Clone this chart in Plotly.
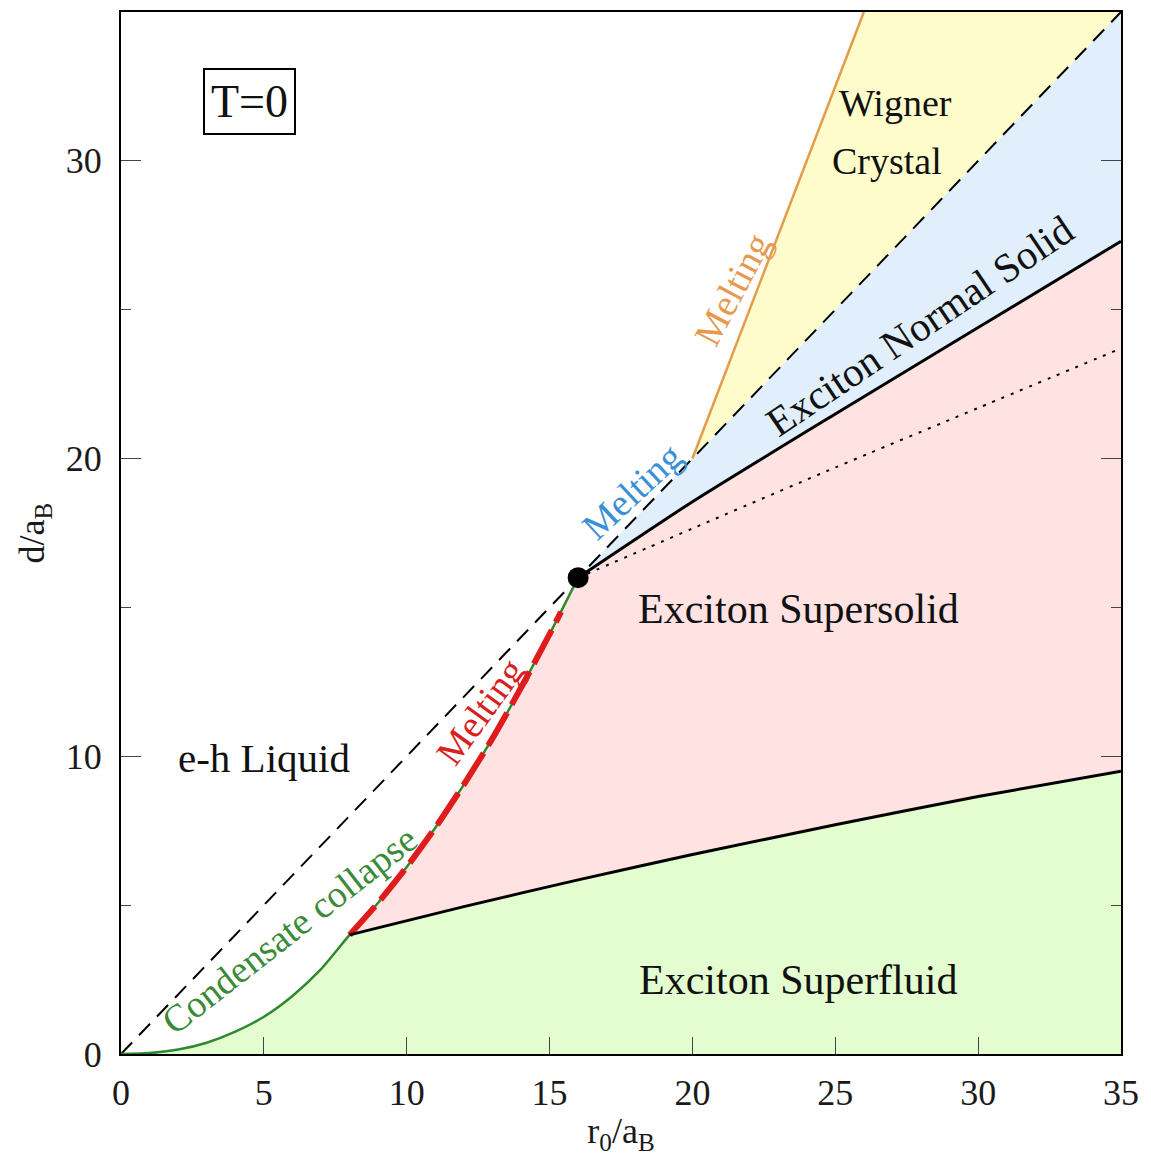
import plotly.graph_objects as go

# ---- data ----
diag_x = [0, 35]
diag_y = [0, 35]

collapse_x = [0, 1, 2, 3, 4, 5, 6, 7, 8]
collapse_y = [0, 0.03, 0.15, 0.38, 0.75, 1.25, 1.95, 2.85, 4.0]

melt_x = [8, 9, 10, 11, 12, 13, 14, 15, 16]
melt_y = [4, 5.08, 6.28, 7.6, 9.05, 10.6, 12.3, 14.1, 16]

red_melt_x = [8, 9, 10, 11, 12, 13, 14, 15, 15.4]
red_melt_y = [4, 5.08, 6.28, 7.6, 9.05, 10.6, 12.3, 14.1, 14.85]

sf_x = [8, 12, 16, 20, 25, 30, 35]
sf_y = [4, 4.95, 5.85, 6.7, 7.7, 8.65, 9.5]

ns_x = [16, 20, 25, 30, 35]
ns_y = [16, 18.55, 21.5, 24.4, 27.3]

dot_x = [16, 20, 25, 30, 35]
dot_y = [16, 17.65, 19.7, 21.7, 23.7]

wig_x = [20, 26]
wig_y = [20, 35]

triple_x = [16]
triple_y = [16]

xticks = [0, 5, 10, 15, 20, 25, 30, 35]
yticks = [0, 10, 20, 30]

FONT = "Liberation Serif"

fig = go.Figure()

def poly(xs, ys, color):
    fig.add_trace(go.Scatter(x=xs, y=ys, mode="lines", fill="toself",
                             fillcolor=color, line=dict(width=0),
                             hoverinfo="skip", showlegend=False))

# fills
poly(collapse_x + sf_x[1:] + [sf_x[-1], collapse_x[0]],
     collapse_y + sf_y[1:] + [0, 0], "#e3fcd0")
poly(sf_x + ns_x[::-1] + melt_x[-2::-1],
     sf_y + ns_y[::-1] + melt_y[-2::-1], "#ffe2e2")
poly(ns_x + [diag_x[1], triple_x[0]],
     ns_y + [diag_y[1], triple_y[0]], "#e0effb")
poly([wig_x[0], diag_x[1], wig_x[1]],
     [wig_y[0], diag_y[1], wig_y[1]], "#fffccc")

def line(xs, ys, color, width, dash="solid"):
    fig.add_trace(go.Scatter(x=xs, y=ys, mode="lines",
                             line=dict(color=color, width=width, dash=dash, shape="spline", smoothing=0.6),
                             hoverinfo="skip", showlegend=False))

line(diag_x, diag_y, "black", 2, "16px,10px")
line(collapse_x + melt_x[1:], collapse_y + melt_y[1:], "#2f8a2f", 2.5)
line(red_melt_x, red_melt_y, "#e01b1b", 6, "38px,9px")
line(sf_x, sf_y, "black", 3)
line(ns_x, ns_y, "black", 3)
line(dot_x, dot_y, "black", 2, "3px,7px")
line(wig_x, wig_y, "#e39b4c", 2.5)

fig.add_trace(go.Scatter(x=triple_x, y=triple_y, mode="markers",
                         marker=dict(color="black", size=21),
                         hoverinfo="skip", showlegend=False))

def txt(x, y, s, size=40, color="#111", angle=0, **kw):
    fig.add_annotation(x=x, y=y, xref="x", yref="y", text=s, showarrow=False,
                       textangle=angle, font=dict(family=FONT, size=size, color=color), **kw)

txt(4.49, 32.0, "T=0", size=46, bordercolor="black", borderwidth=2, borderpad=6)
txt(27.1, 31.95, "Wigner", size=38)
txt(26.8, 30.0, "Crystal", size=38)
txt(27.95, 24.45, "Exciton Normal Solid", size=41, angle=-34)
txt(23.7, 14.95, "Exciton Supersolid", size=42)
txt(23.7, 2.5, "Exciton Superfluid", size=42)
txt(5.0, 9.95, "e-h Liquid", size=41)
txt(5.9, 4.15, "Condensate collapse", size=38, color="#3a8a3a", angle=-38)
txt(12.55, 11.5, "Melting", size=38, color="#d92020", angle=-54)
txt(17.9, 18.9, "Melting", size=38, color="#3a8fd6", angle=-43)
txt(21.4, 25.7, "Melting", size=38, color="#e59a4f", angle=-62)

fig.update_layout(
    width=1143, height=1154,
    margin=dict(l=113, r=30, t=2, b=108),
    plot_bgcolor="white", paper_bgcolor="white",
    font=dict(family=FONT, size=36, color="#1a1a1a"),
    showlegend=False,
)
fig.update_xaxes(range=[0, 35], tickvals=xticks, ticks="inside", ticklen=17,
                 tickcolor="#444", tickwidth=1, showgrid=False, zeroline=False,
                 showline=True, linecolor="black", linewidth=2, mirror=True,
                 ticklabelstandoff=6,
                 tickfont=dict(family=FONT, size=36),
                 title=dict(text="r<sub>0</sub>/a<sub>B</sub>", font=dict(family=FONT, size=36), standoff=6))
fig.update_yaxes(range=[0, 35], tickvals=yticks, ticks="inside", ticklen=20,
                 tickcolor="#444", tickwidth=1, showgrid=False, zeroline=False,
                 showline=True, linecolor="black", linewidth=2, mirror="ticks",
                 ticklabelstandoff=10,
                 minor=dict(tickvals=[5, 15, 25], ticks="inside", ticklen=10, tickcolor="#444", tickwidth=1),
                 tickfont=dict(family=FONT, size=36),
                 title=dict(text="d/a<sub>B</sub>", font=dict(family=FONT, size=36), standoff=10))

fig.write_html("out.html")
